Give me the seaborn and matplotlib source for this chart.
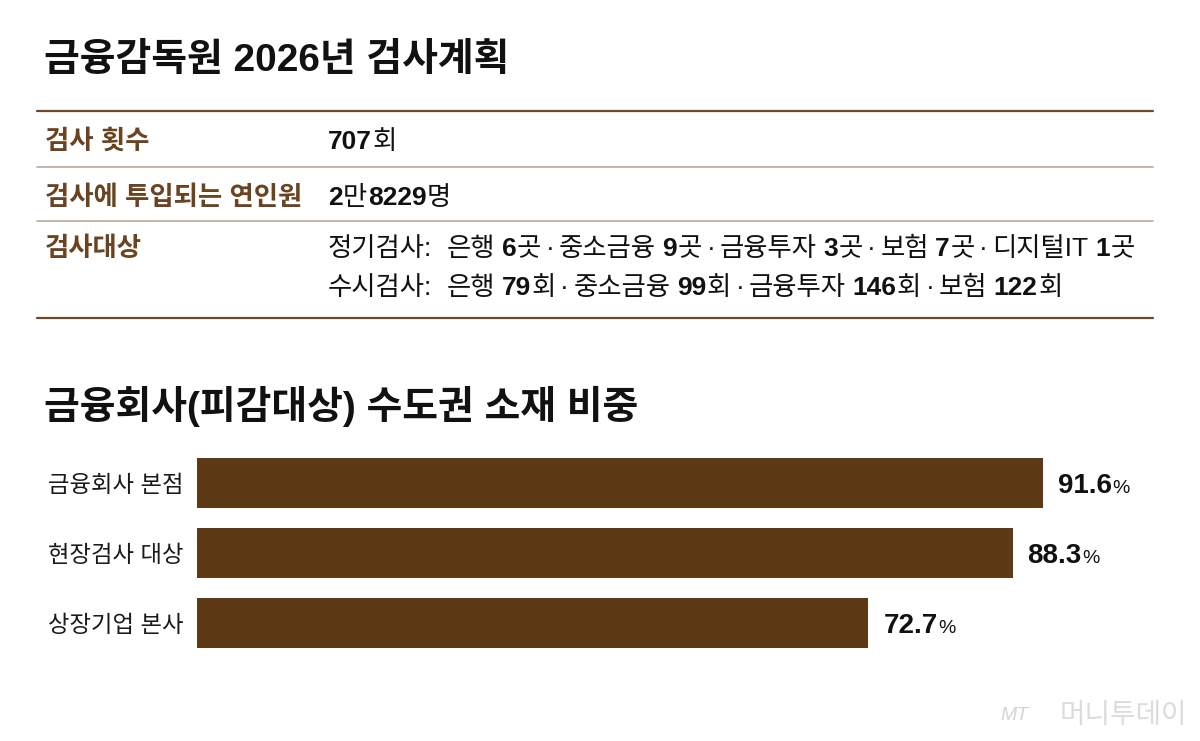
import matplotlib
matplotlib.use("Agg")
import matplotlib.pyplot as plt
import seaborn as sns
import pandas as pd

W, H = 1200, 741
BAR_BROWN = "#5e3916"
LABEL_BROWN = "#6a4420"

# 데이터
title_top = "금융감독원 2026년 검사계획"
title_bottom = "금융회사(피감대상) 수도권 소재 비중"

row_labels = ["검사 횟수", "검사에 투입되는 연인원", "검사대상"]
inspections = 707
person_man, person_rest = 2, 8229
regular_sectors = ["은행", "중소금융", "금융투자", "보험", "디지털IT"]
regular_counts = [6, 9, 3, 7, 1]
adhoc_sectors = ["은행", "중소금융", "금융투자", "보험"]
adhoc_counts = [79, 99, 146, 122]

categories = ["금융회사 본점", "현장검사 대상", "상장기업 본사"]
shares = [91.6, 88.3, 72.7]

sns.set_theme(style="white")
plt.rcParams["font.family"] = ["Liberation Sans", "Noto Sans CJK KR", "DejaVu Sans"]

fig = plt.figure(figsize=(12, 7.41), dpi=100)
fig.patch.set_facecolor("white")
renderer = fig.canvas.get_renderer()


def px(x, y):
    return x / W, 1 - y / H


def runs(x, y, parts, size, color="#111111", va="baseline"):
    # parts: (text, bold) or (text, bold, size) tuples, or a number = gap in px
    for p in parts:
        if isinstance(p, (int, float)):
            x += p
            continue
        text, bold = p[0], p[1]
        sz = p[2] if len(p) > 2 else size
        t = fig.text(*px(x, y), text, fontsize=sz, color=color, va=va, ha="left",
                     fontweight="bold" if bold else "normal")
        x += t.get_window_extent(renderer).width + 0.5
    return x


def hline(y, color, lw):
    fig.add_artist(plt.Line2D([37 / W, 1153 / W], [1 - y / H] * 2, color=color, lw=lw))


# 제목
fig.text(*px(44, 61), title_top, fontsize=28, fontweight="bold", color="#111111", va="center")
fig.text(*px(44, 406), title_bottom, fontsize=28, fontweight="bold", color="#111111", va="center")

# 표
hline(111, "#6b4a2a", 1.6)
hline(166.5, "#b9ab9c", 1.2)
hline(221, "#b9ab9c", 1.2)
hline(318, "#6b4a2a", 1.6)

TS = 19
baselines = [149, 205, 256]
for lab, yb in zip(row_labels, baselines):
    fig.text(*px(45, yb), lab, fontsize=TS, fontweight="bold", color=LABEL_BROWN, va="baseline")

VX = 328
runs(VX, 149, [(str(inspections), True), ("회", False)], TS)
runs(VX, 205, [(str(person_man), True), ("만", False), (str(person_rest), True), ("명", False)], TS)

line1 = [("정기검사:", False), 14]
for i, (s, c) in enumerate(zip(regular_sectors, regular_counts)):
    if i:
        line1 += [4, ("·", False), 4]
    line1 += [(s, False), 6, (str(c), True), ("곳", False)]
runs(VX, 256, line1, TS)

line2 = [("수시검사:", False), 14]
for i, (s, c) in enumerate(zip(adhoc_sectors, adhoc_counts)):
    if i:
        line2 += [4, ("·", False), 4]
    line2 += [(s, False), 6, (str(c), True), ("회", False)]
runs(VX, 295, line2, TS)

# 막대그래프
ax = fig.add_axes([197 / W, 1 - 658 / H, 923.6 / W, 210 / H])
df = pd.DataFrame({"category": categories, "share": shares})
sns.barplot(data=df, x="share", y="category", orient="h", color=BAR_BROWN,
            saturation=1, width=50 / 70, linewidth=0, ax=ax)
ax.set_xlim(0, 100)
ax.set_ylim(2.5, -0.5)
sns.despine(ax=ax, left=True, bottom=True)
ax.set_xticks([])
ax.set_xlabel("")
ax.set_ylabel("")
ax.tick_params(axis="y", length=0, pad=10, labelsize=16.8, labelcolor="#1a1a1a")
ax.patch.set_alpha(0)

for i, v in enumerate(shares):
    xd, yd = ax.transData.transform((v, i))
    runs(xd + 15, H - yd + 10, [(f"{v:.1f}", True, 20), ("%", False, 14)], 20)

# 워터마크
fig.text(*px(1000, 716), "MT", fontsize=14, fontstyle="italic", color="#d4d4d4", va="center")
fig.text(*px(1060, 716), "머니투데이", fontsize=20, color="#dcdcdc", va="center")

fig.savefig("out.png", dpi=100, facecolor="white")
